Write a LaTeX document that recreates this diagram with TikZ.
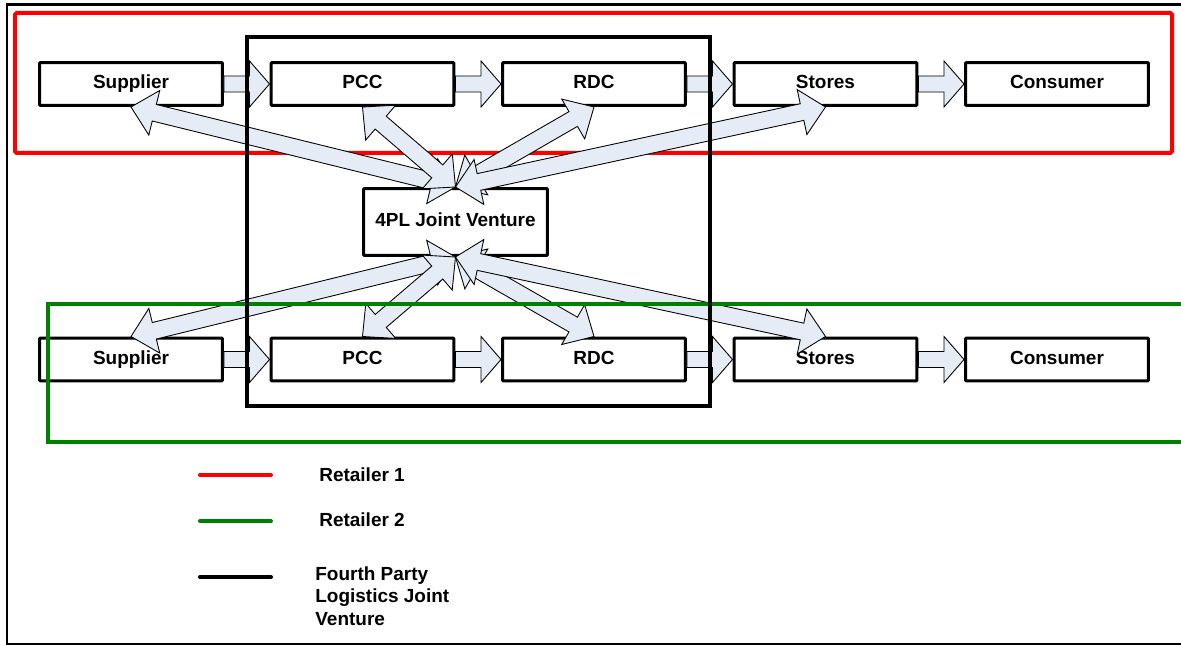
\documentclass[tikz,border=0pt]{standalone}
\usepackage{fontspec}
\setmainfont{Liberation Sans}
\usepackage{tikz}
\usetikzlibrary{calc}
\usepackage{xcolor}
\definecolor{flowfill}{RGB}{230,236,246}
\definecolor{retailgreen}{RGB}{0,128,0}

\begin{document}
\begin{tikzpicture}[x=0.02cm, y=-0.02cm, font=\fontsize{10.8}{13}\selectfont\bfseries]
	\tikzstyle{place}=[draw=black, line width=0.06cm, rounded corners=0.6pt, minimum width=3.66cm, minimum height=0.86cm, inner sep=0pt, text height=0.73em, text depth=0.21em]
	\tikzstyle{flow}=[draw=black, line width=0.5pt, fill=flowfill, line join=miter]

	\useasboundingbox (0,0) rectangle (1181,645);
	\clip (0,0) rectangle (1181,645);

	% page frame
	\draw[line width=0.06cm] (1200,5) -- (7,5) -- (7,644) -- (1200,644);

	% Retailer 1
	\draw[red, line width=0.08cm, rounded corners=1pt] (15,13) rectangle (1172,153);
	\foreach \t [count=\i] in {Supplier, PCC, RDC, Stores, Consumer}
		\node[place] at ({131+231.5*(\i-1)}, 84) (r1_\i) {\t};

	% 4PL
	\node[place, minimum width=3.68cm, minimum height=1.34cm] at (455.5, 222) (jv) {4PL Joint Venture};

	% Retailer 2
	\foreach \t [count=\i] in {Supplier, PCC, RDC, Stores, Consumer}
		\node[place] at ({131+231.5*(\i-1)}, 359.5) (r2_\i) {\t};

	%----------------------------------------------------%
	%                  material flow                     %
	%----------------------------------------------------%

	% Supplier -> PCC -> RDC -> Stores -> Consumer
	\foreach \i/\j in {1/2, 2/3, 3/4, 4/5} {
		\draw[flow] ($(r1_\i.east)+(0,-8)$) -- ($(r1_\j.west)+(-20,-8)$) -- ($(r1_\j.west)+(-20,-23)$) -- (r1_\j.west)
			-- ($(r1_\j.west)+(-20,23)$) -- ($(r1_\j.west)+(-20,8)$) -- ($(r1_\i.east)+(0,8)$) -- cycle;
		\draw[flow] ($(r2_\i.east)+(0,-8)$) -- ($(r2_\j.west)+(-20,-8)$) -- ($(r2_\j.west)+(-20,-23)$) -- (r2_\j.west)
			-- ($(r2_\j.west)+(-20,23)$) -- ($(r2_\j.west)+(-20,8)$) -- ($(r2_\i.east)+(0,8)$) -- cycle;
	}

	% 4PL <-> Retailer 1
	\foreach \j in {1,...,4}
		\draw[flow] (jv.north)
			-- ($(jv.north)!0.48cm!(r1_\j.south)!0.46cm!90:(r1_\j.south)$)
			-- ($(jv.north)!0.48cm!(r1_\j.south)!0.17cm!90:(r1_\j.south)$)
			-- ($(r1_\j.south)!0.48cm!(jv.north)!0.17cm!-90:(jv.north)$)
			-- ($(r1_\j.south)!0.48cm!(jv.north)!0.46cm!-90:(jv.north)$)
			-- (r1_\j.south)
			-- ($(r1_\j.south)!0.48cm!(jv.north)!0.46cm!90:(jv.north)$)
			-- ($(r1_\j.south)!0.48cm!(jv.north)!0.17cm!90:(jv.north)$)
			-- ($(jv.north)!0.48cm!(r1_\j.south)!0.17cm!-90:(r1_\j.south)$)
			-- ($(jv.north)!0.48cm!(r1_\j.south)!0.46cm!-90:(r1_\j.south)$)
			-- cycle;

	% 4PL <-> Retailer 2
	\foreach \j in {1,...,4}
		\draw[flow] (jv.south)
			-- ($(jv.south)!0.48cm!(r2_\j.north)!0.46cm!90:(r2_\j.north)$)
			-- ($(jv.south)!0.48cm!(r2_\j.north)!0.17cm!90:(r2_\j.north)$)
			-- ($(r2_\j.north)!0.48cm!(jv.south)!0.17cm!-90:(jv.south)$)
			-- ($(r2_\j.north)!0.48cm!(jv.south)!0.46cm!-90:(jv.south)$)
			-- (r2_\j.north)
			-- ($(r2_\j.north)!0.48cm!(jv.south)!0.46cm!90:(jv.south)$)
			-- ($(r2_\j.north)!0.48cm!(jv.south)!0.17cm!90:(jv.south)$)
			-- ($(jv.south)!0.48cm!(r2_\j.north)!0.17cm!-90:(r2_\j.north)$)
			-- ($(jv.south)!0.48cm!(r2_\j.north)!0.46cm!-90:(r2_\j.north)$)
			-- cycle;

	% Retailer 2 boundary and joint venture boundary on top
	\draw[retailgreen, line width=0.075cm] (48,304) rectangle (1200,442);
	\draw[line width=0.065cm] (247,37) rectangle (710,406);

	% -------------------------------------------%
	%                  Legend                    %
	%--------------------------------------------%
	\draw[red, line width=0.08cm, line cap=round] (200,475) -- (271,475);
	\node[anchor=base west, inner sep=0pt] at (319,481) (leg_1) {Retailer 1};
	\draw[retailgreen, line width=0.08cm, line cap=round] (200,521) -- (271,521);
	\node[anchor=base west, inner sep=0pt] at (319,526) (leg_2) {Retailer 2};
	\draw[black, line width=0.08cm, line cap=round] (200,577) -- (271,577);
	\node[anchor=north west, inner sep=0pt, align=left] at (315,566) (leg_3) {Fourth Party\\Logistics Joint\\Venture};
\end{tikzpicture}
\end{document}
